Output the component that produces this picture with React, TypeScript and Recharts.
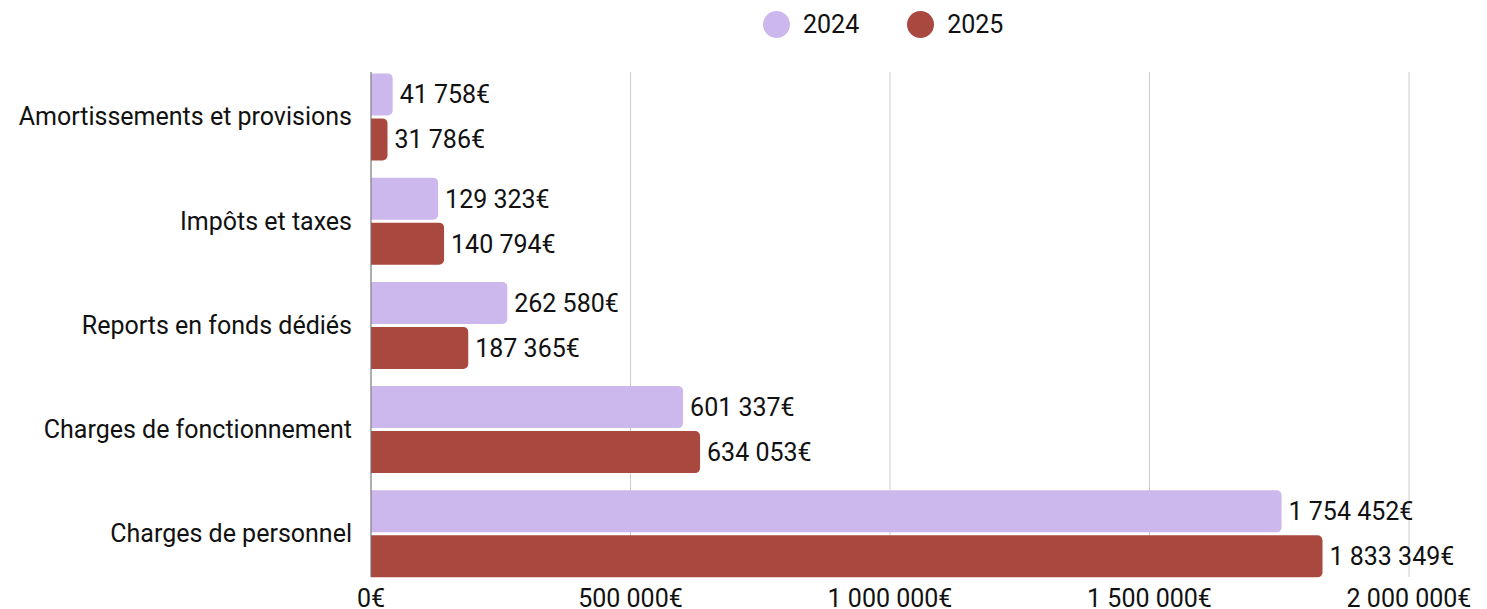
import React from "react";
import { BarChart, Bar, XAxis, YAxis, CartesianGrid, LabelList } from "recharts";

const categories = [
  "Amortissements et provisions",
  "Impôts et taxes",
  "Reports en fonds dédiés",
  "Charges de fonctionnement",
  "Charges de personnel",
];
const values2024 = [41758, 129323, 262580, 601337, 1754452];
const values2025 = [31786, 140794, 187365, 634053, 1833349];
const xTicks = [0, 500000, 1000000, 1500000, 2000000];
const seriesNames = ["2024", "2025"];
const colors = ["#CDB8EE", "#A8483E"];

const data = categories.map((c, i) => ({ name: c, v2024: values2024[i], v2025: values2025[i] }));

const FONT = "Roboto, 'DejaVu Sans', sans-serif";
const FS = 25;

const fmt = (v: number) => String(Math.round(v)).replace(/\B(?=(\d{3})+(?!\d))/g, " ") + "€";

const LegendBox = () => (
  <div style={{ position: "absolute", left: 755, top: 0, display: "flex", alignItems: "center", fontFamily: FONT, fontSize: FS, color: "#111", height: 32 }}>
    {seriesNames.map((n, i) => (
      <div key={n} style={{ display: "flex", alignItems: "center", marginRight: i === 0 ? 48 : 0 }}>
        <span style={{ display: "inline-block", width: 27, height: 27, borderRadius: "50%", background: colors[i], marginRight: 13 }} />
        <span>{n}</span>
      </div>
    ))}
  </div>
);

export default function App() {
  return (
    <div style={{ fontFamily: FONT, position: "relative" }}>
      <BarChart
        width={1479}
        height={601}
        data={data}
        layout="vertical"
        margin={{ top: 64, right: 78, bottom: 2, left: 0 }}
        barSize={42}
        barGap={3}
      >
        <CartesianGrid horizontal={false} stroke="#cccccc" />
        <XAxis
          type="number"
          domain={[0, 2000000]}
          ticks={xTicks}
          tickFormatter={fmt}
          axisLine={false}
          tickLine={false}
          height={30}
          tick={{ fontSize: FS, fill: "#111", fontFamily: FONT, dy: 4 }}
          interval={0}
        />
        <YAxis
          type="category"
          dataKey="name"
          width={363}
          axisLine={{ stroke: "#777" }}
          tickLine={false}
          tickMargin={13}
          padding={{ top: -7.6, bottom: -8.6 }}
          tick={{ fontSize: FS, fill: "#111", fontFamily: FONT }}
          interval={0}
        />
        <Bar dataKey="v2024" name="2024" fill={colors[0]} radius={[0, 5, 5, 0]} isAnimationActive={false}>
          <LabelList dataKey="v2024" position="right" offset={7} formatter={(v: number) => fmt(v)} style={{ fontSize: FS, fill: "#111", fontFamily: FONT }} />
        </Bar>
        <Bar dataKey="v2025" name="2025" fill={colors[1]} radius={[0, 5, 5, 0]} isAnimationActive={false}>
          <LabelList dataKey="v2025" position="right" offset={7} formatter={(v: number) => fmt(v)} style={{ fontSize: FS, fill: "#111", fontFamily: FONT }} />
        </Bar>
      </BarChart>
      <LegendBox />
    </div>
  );
}
